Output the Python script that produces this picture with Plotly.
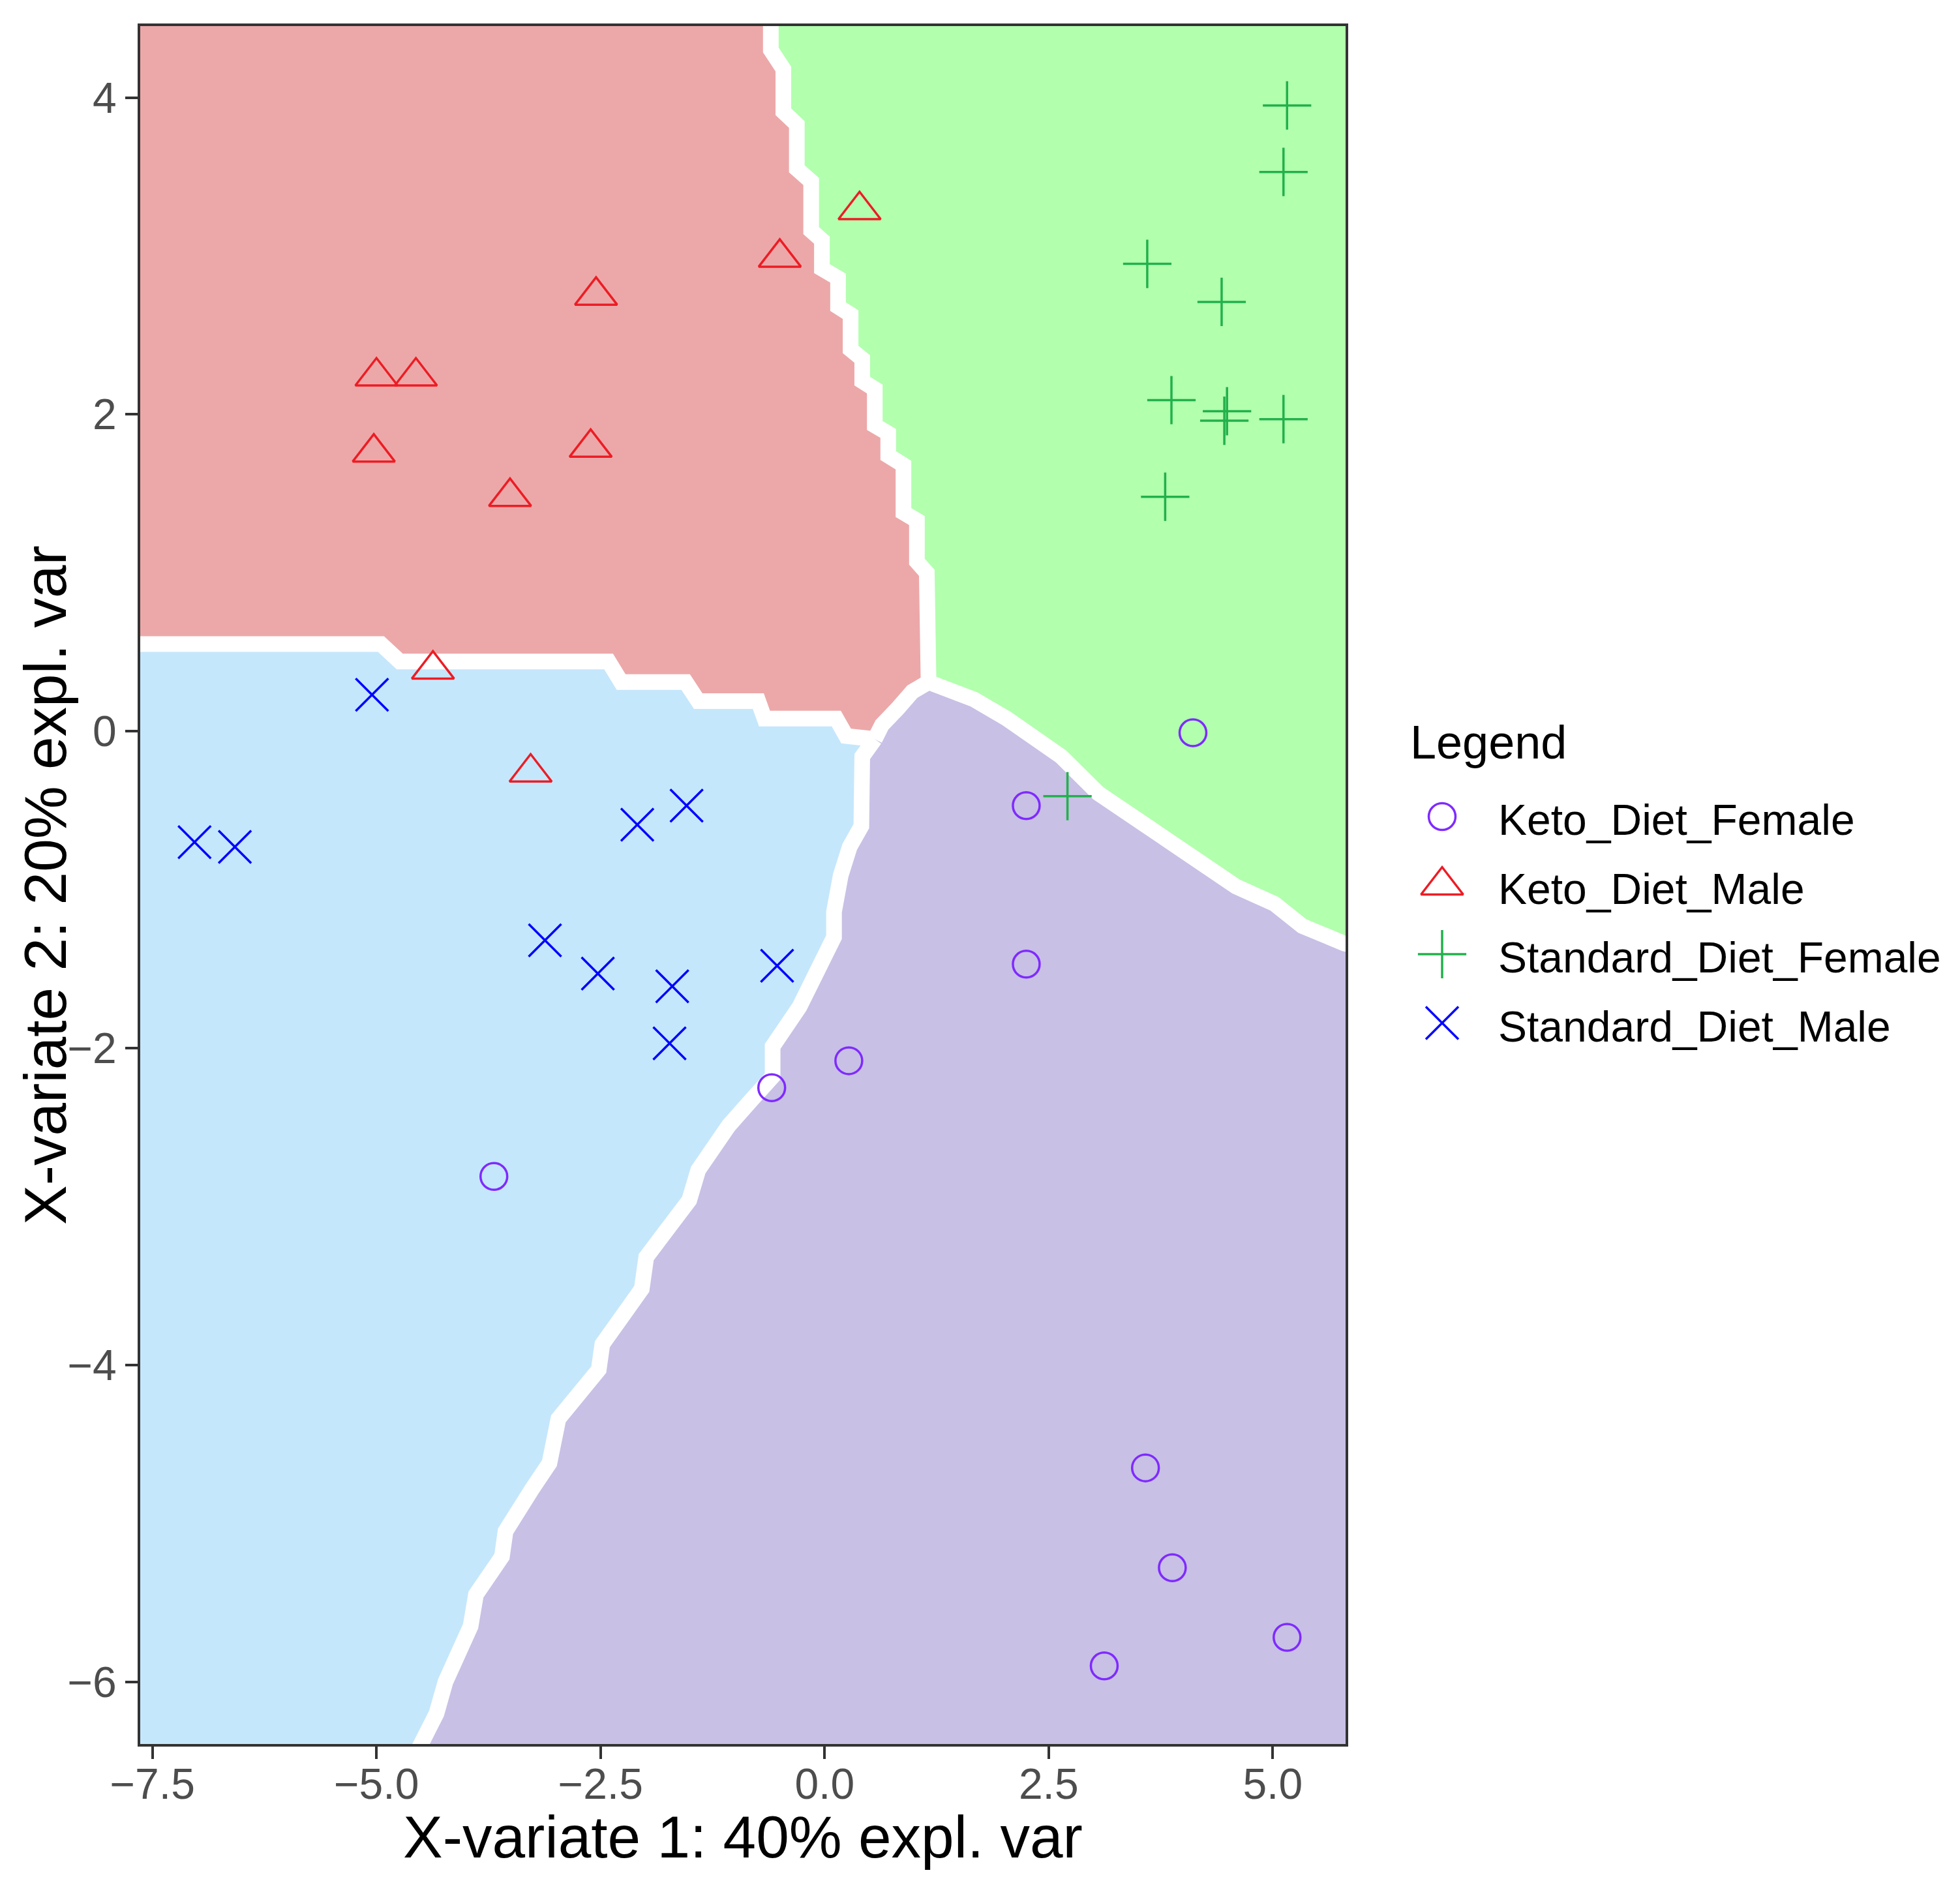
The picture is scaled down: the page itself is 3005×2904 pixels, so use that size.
import plotly.graph_objects as go

# sample scores (X-variate 1, X-variate 2)
keto_female_x = [4.11, 2.25, 2.25, 0.27, -0.59, -3.69, 3.58, 3.88, 5.16, 3.12]
keto_female_y = [-0.01, -0.47, -1.47, -2.08, -2.25, -2.81, -4.65, -5.28, -5.72, -5.90]
keto_male_x = [0.39, -0.50, -2.55, -5.00, -4.56, -5.03, -2.61, -3.51, -4.37, -3.28]
keto_male_y = [3.29, 2.99, 2.75, 2.24, 2.24, 1.76, 1.79, 1.48, 0.39, -0.26]
std_female_x = [5.16, 5.12, 3.60, 4.43, 3.87, 4.46, 4.49, 5.12, 3.80, 2.71]
std_female_y = [3.95, 3.53, 2.95, 2.71, 2.09, 1.96, 2.02, 1.97, 1.48, -0.41]
std_male_x = [-5.05, -7.03, -6.58, -2.09, -1.54, -3.12, -2.53, -1.70, -0.53, -1.73]
std_male_y = [0.23, -0.70, -0.73, -0.59, -0.47, -1.32, -1.53, -1.61, -1.48, -1.97]

# prediction-area borders (white bands)
# red | green
b1_x = [-0.60, -0.60, -0.46, -0.46, -0.31, -0.31, -0.15, -0.15, -0.03, -0.03, 0.15, 0.15, 0.29,
        0.29, 0.42, 0.42, 0.56, 0.56, 0.71, 0.71, 0.88, 0.88, 1.03, 1.03, 1.14, 1.16]
b1_y = [4.60, 4.30, 4.18, 3.91, 3.83, 3.55, 3.47, 3.16, 3.10, 2.92, 2.86, 2.68, 2.63,
        2.41, 2.35, 2.21, 2.16, 1.93, 1.88, 1.74, 1.68, 1.38, 1.33, 1.07, 1.00, 0.31]
# green | purple
b5_x = [1.16, 1.67, 2.03, 2.32, 2.64, 3.05, 3.36, 3.67, 3.94, 4.27, 4.59, 5.02, 5.33, 5.80, 6.20]
b5_y = [0.31, 0.20, 0.08, -0.04, -0.16, -0.39, -0.51, -0.63, -0.75, -0.87, -0.98, -1.09, -1.23, -1.34, -1.38]
# red | purple
b3_x = [1.16, 0.98, 0.81, 0.64, 0.56]
b3_y = [0.31, 0.25, 0.14, 0.04, -0.05]
# red | blue
b2_x = [-8.00, -4.95, -4.74, -2.41, -2.27, -1.55, -1.41, -0.74, -0.67, 0.13, 0.24, 0.56]
b2_y = [0.55, 0.55, 0.44, 0.44, 0.31, 0.31, 0.19, 0.19, 0.08, 0.08, -0.03, -0.05]
# blue | purple
b4_x = [0.56, 0.42, 0.41, 0.28, 0.18, 0.105, 0.105, -0.14, -0.28, -0.58, -0.58, -0.82, -1.07, -1.41, -1.51,
        -1.99, -2.04, -2.48, -2.52, -2.97, -3.07, -3.26, -3.56, -3.60, -3.89, -3.95, -4.23, -4.33, -4.53, -4.67]
b4_y = [-0.05, -0.16, -0.60, -0.73, -0.91, -1.14, -1.30, -1.58, -1.74, -1.99, -2.18, -2.33, -2.49, -2.77, -2.96,
        -3.32, -3.52, -3.87, -4.03, -4.34, -4.62, -4.78, -5.05, -5.21, -5.45, -5.65, -6.00, -6.20, -6.40, -6.58]

groups = ["Keto_Diet_Female", "Keto_Diet_Male", "Standard_Diet_Female", "Standard_Diet_Male"]

# page is 3005x2904, the html body adds an 8px margin, so the figure is a bit smaller
OFF = 8
W, H = 3005 - 2 * OFF, 2904 - 2 * OFF
FONT = "Liberation Sans, Arial, sans-serif"


def px_x(p):
    return (p - OFF) / W


def px_y(p):
    return 1 - (p - OFF) / H


# colours
pt_cols = ["#7F2AFF", "#ED1C24", "#22B14C", "#0000FF"]
bg_red = "#ECA8A9"
bg_green = "#B2FFAE"
bg_blue = "#C5E7FC"
bg_purple = "#C8C0E5"

symbols = ["circle-open", "triangle-up-open", "cross-thin-open", "x-thin-open"]
sizes = [41, 56, 53, 50]

fig = go.Figure()

# background regions
red_x = [-8.0] + b1_x + b3_x[1:] + b2_x[::-1][1:]
red_y = [4.6] + b1_y + b3_y[1:] + b2_y[::-1][1:]
green_x = [6.2] + b5_x[::-1] + b1_x[::-1][1:]
green_y = [4.6] + b5_y[::-1] + b1_y[::-1][1:]
purple_x = b5_x + [6.2] + b4_x[::-1] + b3_x[::-1][1:]
purple_y = b5_y + [-6.7] + b4_y[::-1] + b3_y[::-1][1:]
blue_x = b2_x + b4_x[1:] + [-8.0]
blue_y = b2_y + b4_y[1:] + [-6.7]

for px, py, c in [(red_x, red_y, bg_red), (green_x, green_y, bg_green),
                  (purple_x, purple_y, bg_purple), (blue_x, blue_y, bg_blue)]:
    fig.add_trace(go.Scatter(x=px, y=py, mode="lines", fill="toself", fillcolor=c,
                             line=dict(width=0, color=c), hoverinfo="skip", showlegend=False))

for bx, by in [(b1_x, b1_y), (b5_x, b5_y), (b3_x, b3_y), (b2_x, b2_y), (b4_x, b4_y)]:
    fig.add_trace(go.Scatter(x=bx, y=by, mode="lines", line=dict(color="white", width=24),
                             hoverinfo="skip", showlegend=False))

# points
pts = [(keto_female_x, keto_female_y), (keto_male_x, keto_male_y),
       (std_female_x, std_female_y), (std_male_x, std_male_y)]
for i, (gx, gy) in enumerate(pts):
    fig.add_trace(go.Scatter(
        x=gx, y=gy, mode="markers", name=groups[i], showlegend=False,
        marker=dict(symbol=symbols[i], size=sizes[i], color=pt_cols[i], line=dict(width=3.5, color=pt_cols[i]))
    ))

# hand-made legend on a hidden axis pair (units = page pixels)
row_y = [1252 + 105.5 * i for i in range(4)]
for i in range(4):
    fig.add_trace(go.Scatter(
        x=[2211], y=[row_y[i]], mode="markers", xaxis="x2", yaxis="y2", showlegend=False,
        marker=dict(symbol=symbols[i], size=sizes[i], color=pt_cols[i], line=dict(width=3.5, color=pt_cols[i]))
    ))

annotations = [
    dict(text="X-variate 1: 40% expl. var", x=px_x(1139), y=px_y(2816), xref="paper", yref="paper",
         showarrow=False, xanchor="center", yanchor="middle", font=dict(size=91, color="black", family=FONT)),
    dict(text="X-variate 2: 20% expl. var", x=px_x(70), y=px_y(1357), xref="paper", yref="paper",
         showarrow=False, xanchor="center", yanchor="middle", textangle=-90,
         font=dict(size=91, color="black", family=FONT)),
    dict(text="Legend", x=2160, y=1138, xref="x2", yref="y2", showarrow=False,
         xanchor="left", yanchor="middle", font=dict(size=72, color="black", family=FONT)),
]
for i in range(4):
    annotations.append(dict(text=groups[i], x=2295, y=row_y[i] + 5, xref="x2", yref="y2", showarrow=False,
                            xanchor="left", yanchor="middle", font=dict(size=66, color="black", family=FONT)))

axis_style = dict(
    showline=True, mirror=True, linecolor="#333333", linewidth=4,
    ticks="outside", ticklen=19, tickwidth=4, tickcolor="#333333",
    showgrid=False, zeroline=False, automargin=False,
    tickfont=dict(size=66, color="#4D4D4D", family=FONT),
)

fig.update_layout(
    width=W, height=H,
    margin=dict(l=0, r=0, t=0, b=0, autoexpand=False),
    paper_bgcolor="white",
    plot_bgcolor="rgba(0,0,0,0)",
    font=dict(family=FONT),
    xaxis=dict(domain=[px_x(215), px_x(2063)], range=[-7.636, 5.813],
               tickvals=[-7.5, -5.0, -2.5, 0.0, 2.5, 5.0], tickformat=".1f",
               ticklabelstandoff=-18, **axis_style),
    yaxis=dict(domain=[px_y(2674), px_y(40)], range=[-6.393, 4.451],
               tickvals=[-6, -4, -2, 0, 2, 4], **axis_style),
    xaxis2=dict(domain=[px_x(2100), 1.0], range=[2100, W + OFF], visible=False, anchor="y2", automargin=False),
    yaxis2=dict(domain=[px_y(1700), px_y(1050)], range=[1700, 1050], visible=False, anchor="x2",
                automargin=False),
    annotations=annotations,
    showlegend=False,
)

fig.write_html("out.html")
